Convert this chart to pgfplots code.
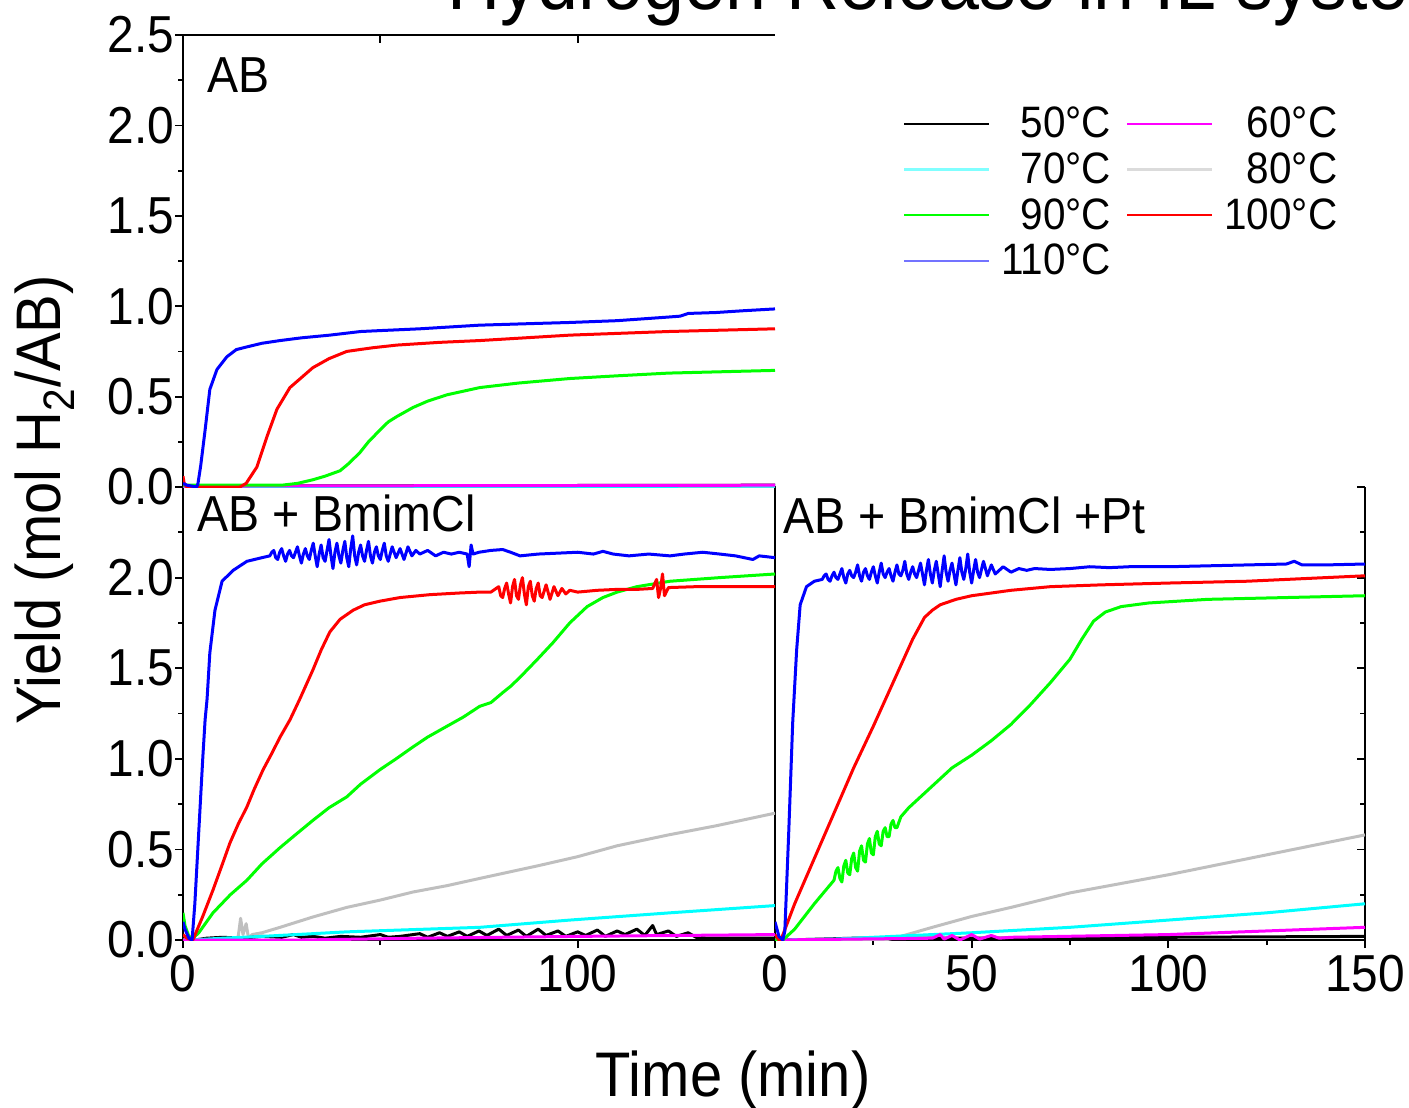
\documentclass[border=0pt]{standalone}
\usepackage{fontspec}
\setmainfont{Liberation Sans}[FakeStretch=0.92]
\usepackage{pgfplots}
\pgfplotsset{compat=1.18}
\definecolor{cgray}{rgb}{0.75,0.75,0.75}
\definecolor{cgreen}{rgb}{0,1,0}
\definecolor{cmag}{rgb}{1,0,1}
\definecolor{ccyan}{rgb}{0,1,1}
\definecolor{lcyan}{rgb}{0.5,1,1}
\definecolor{lgray}{rgb}{0.86,0.86,0.86}
\definecolor{lblue}{rgb}{0.45,0.45,1}
\pgfplotsset{
  panel/.style={
    scale only axis, xmin=0, xmax=150, ymin=0, ymax=2.5,
    tick align=outside,
    major tick length=4pt, minor tick length=2.5pt,
    tick style={black, line width=0.9pt},
    axis line style={line width=1.1pt},
    minor ytick={0.25,0.75,...,2.25},
    tick label style={font=\fontsize{26pt}{30pt}\selectfont},
    /pgf/number format/assume math mode=true,
    yticklabel style={xshift=3pt, /pgf/number format/fixed, /pgf/number format/fixed zerofill, /pgf/number format/precision=1},
    every axis plot/.append style={line width=1.5pt, line join=round},
  }
}
\begin{document}
\begin{tikzpicture}
% ---------------- bottom left: AB + BmimCl
\begin{axis}[panel, at={(91.5pt,-470pt)}, anchor=south west, width=296pt, height=226.5pt,
  xtick pos=left, ytick pos=left,
  ytick={0,0.5,1.0,1.5,2.0}, xtick={0,100}, minor xtick={50}]
\addplot[cgray] coordinates {(0,0) (13,0) (14,0.02) (14.6,0.12) (15.2,0.03) (16,0.09) (16.6,0.01) (17.5,0.03) (20,0.04) (24.6,0.07) (32.9,0.127) (41.5,0.18) (49.9,0.22) (58.3,0.265) (66.9,0.30) (75.2,0.34) (90,0.41) (100,0.46) (110,0.52) (123,0.58) (135,0.63) (150,0.70)};
\addplot[black] coordinates {(0,0.02) (3,0.0) (6,0.01) (10,0.015) (15,0.01) (20,0.02) (25,0.015) (28,0.03) (30,0.015) (33,0.02) (36,0.01) (40,0.02) (45,0.015) (50,0.03) (52,0.015) (55,0.02) (60,0.035) (62,0.015) (65,0.04) (67,0.02) (70,0.045) (72,0.02) (75,0.05) (77,0.025) (80,0.06) (82,0.025) (85,0.055) (87,0.02) (90,0.06) (92,0.025) (95,0.05) (97,0.02) (100,0.045) (102,0.025) (105,0.055) (107,0.02) (110,0.05) (112,0.03) (115,0.06) (117,0.025) (119,0.08) (120,0.03) (123,0.05) (125,0.02) (128,0.04) (130,0.015) (133,0.01) (140,0.01) (150,0.01)};
\addplot[ccyan] coordinates {(0,0) (2,0) (10,0.01) (20,0.02) (41.5,0.045) (75.2,0.07) (98,0.11) (123.4,0.15) (150,0.19)};
\addplot[cmag] coordinates {(0,0) (30,0) (60,0.01) (100,0.02) (150,0.03)};
\addplot[cgreen] coordinates {(0,0.15) (0.5,0.08) (1.5,0.02) (2.5,0.01) (4,0.04) (7.6,0.15) (12,0.25) (16.2,0.33) (20,0.42) (24.6,0.51) (29,0.59) (32.9,0.66) (37,0.73) (41.5,0.79) (45,0.86) (49.9,0.94) (54,1.0) (58.3,1.066) (62,1.12) (66.9,1.18) (71,1.23) (75.2,1.29) (78,1.31) (81,1.365) (83,1.40) (85.4,1.45) (89.7,1.547) (93.7,1.64) (98,1.75) (102.4,1.84) (106.4,1.89) (110,1.92) (115,1.95) (123.4,1.98) (136,2.0) (150,2.02)};
\addplot[red] coordinates {(0,0.03) (1,0.01) (2.5,0.0) (5,0.13) (7.6,0.276) (10,0.42) (11.9,0.536) (14,0.64) (16.2,0.735) (18,0.83) (20.3,0.94) (22.5,1.03) (24.6,1.12) (27.1,1.215) (29.6,1.33) (32.9,1.49) (35,1.60) (37.2,1.70) (39.8,1.77) (43.1,1.82) (46,1.85) (49.9,1.87) (55,1.89) (62.6,1.906) (70,1.915) (75.2,1.92) (78,1.92) (80,1.95) (80.5,1.90) (81,1.89) (81.5,1.94) (82,1.97) (82.5,1.91) (83,1.86) (83.5,1.95) (84,1.99) (84.5,1.90) (85,1.88) (85.5,1.96) (86,2.00) (86.5,1.91) (87,1.85) (87.5,1.95) (88,1.98) (88.5,1.90) (89,1.87) (89.5,1.94) (90,1.97) (90.5,1.90) (91,1.89) (92,1.96) (93,1.88) (94,1.95) (95,1.90) (96,1.94) (97,1.91) (98,1.93) (100,1.92) (105,1.93) (110,1.935) (115,1.935) (119,1.94) (120,1.99) (120.5,1.89) (121,1.94) (121.5,2.02) (122,1.90) (123,1.945) (130,1.95) (140,1.95) (150,1.95)};
\addplot[blue] coordinates {(0,0.1) (0.5,0.06) (1.5,0.01) (2.3,0.0) (3,0.2) (4,0.6) (5.0,1.0) (5.6,1.215) (6.1,1.33) (6.8,1.585) (8.1,1.82) (9.9,1.98) (12.7,2.04) (16.2,2.09) (20,2.11) (22,2.12) (22.5,2.14) (23,2.15) (23.5,2.11) (24,2.10) (24.5,2.14) (25,2.16) (25.5,2.12) (26,2.09) (26.5,2.13) (27,2.15) (27.5,2.12) (28,2.11) (28.5,2.14) (29,2.17) (29.5,2.12) (30,2.08) (30.5,2.13) (31,2.16) (31.5,2.12) (32,2.10) (32.5,2.15) (33,2.19) (33.5,2.12) (34,2.06) (34.5,2.13) (35,2.18) (35.5,2.11) (36,2.09) (36.5,2.15) (37,2.21) (37.5,2.12) (38,2.05) (38.5,2.14) (39,2.19) (39.5,2.12) (40,2.08) (40.5,2.15) (41,2.20) (41.5,2.11) (42,2.06) (42.5,2.16) (43,2.23) (43.5,2.12) (44,2.07) (44.5,2.14) (45,2.18) (45.5,2.12) (46,2.09) (46.5,2.15) (47,2.20) (47.5,2.12) (48,2.08) (48.5,2.14) (49,2.17) (49.5,2.12) (50,2.10) (50.5,2.15) (51,2.19) (51.5,2.12) (52,2.09) (53,2.17) (54,2.11) (55,2.16) (56,2.10) (57,2.17) (58,2.12) (59,2.15) (60,2.13) (62,2.15) (64,2.12) (66,2.14) (68,2.13) (70,2.14) (72,2.13) (72.5,2.06) (73,2.18) (73.5,2.13) (75,2.14) (78,2.15) (81,2.155) (83,2.14) (85.4,2.12) (90,2.13) (95,2.135) (100,2.14) (104,2.13) (106.4,2.145) (109,2.13) (113,2.12) (118,2.13) (123.4,2.12) (127,2.13) (131.7,2.14) (136,2.13) (140,2.12) (144.4,2.10) (146,2.12) (150,2.11)};
\end{axis}
% ---------------- bottom right: AB + BmimCl + Pt
\begin{axis}[panel, at={(387.5pt,-470pt)}, anchor=south west, width=295pt, height=226.5pt,
  axis x line*=bottom, axis y line*=right,
  every major y tick/.append style={xshift=-4pt},
  every minor y tick/.append style={xshift=-2.5pt},
  ytick={0,0.5,1.0,1.5,2.0,2.5}, yticklabels={},
  xtick={0,50,100,150}, minor xtick={25,75,125}]
\addplot[cgray] coordinates {(0,0) (28,0) (32,0.02) (40,0.07) (50,0.13) (60,0.18) (75,0.26) (100,0.36) (125,0.47) (150,0.58)};
\addplot[black] coordinates {(0,0.02) (3,0.0) (20,0.01) (50,0.01) (100,0.015) (150,0.02)};
\addplot[ccyan] coordinates {(0,0) (15,0.005) (30,0.02) (50,0.04) (75,0.07) (100,0.11) (125,0.15) (150,0.2)};
\addplot[cmag] coordinates {(0,0) (20,0.005) (40,0.01) (42,0.03) (43,0.005) (45,0.025) (47,0.0) (50,0.03) (52,0.005) (55,0.025) (57,0.01) (60,0.015) (100,0.03) (125,0.05) (150,0.07)};
\addplot[cgreen] coordinates {(0,0) (2,0) (5,0.06) (10,0.2) (15,0.33) (15.5,0.38) (16,0.40) (16.5,0.34) (17,0.32) (17.5,0.41) (18,0.44) (18.5,0.37) (19,0.36) (19.5,0.45) (20,0.48) (20.5,0.40) (21,0.38) (21.5,0.49) (22,0.52) (22.5,0.44) (23,0.43) (23.5,0.53) (24,0.56) (24.5,0.48) (25,0.47) (25.5,0.57) (26,0.60) (26.5,0.53) (27,0.52) (27.5,0.60) (28,0.62) (28.5,0.57) (29,0.57) (29.5,0.64) (30,0.66) (30.5,0.62) (31,0.62) (32,0.68) (34,0.73) (40,0.85) (45,0.95) (50,1.02) (55,1.10) (60,1.19) (65,1.30) (70,1.42) (75,1.55) (78,1.66) (81,1.76) (84,1.81) (88,1.84) (95,1.86) (110,1.88) (130,1.89) (150,1.90)};
\addplot[red] coordinates {(0,0.03) (1,0.0) (1.5,0.0) (5,0.2) (10,0.45) (15,0.7) (20,0.95) (25,1.18) (30,1.42) (35,1.66) (38,1.78) (40,1.82) (42,1.85) (46,1.88) (50,1.9) (60,1.93) (70,1.95) (83,1.96) (100,1.97) (120,1.98) (135,1.995) (150,2.01)};
\addplot[blue] coordinates {(0,0.1) (1,0.02) (2,0.0) (2.5,0.05) (3.5,0.6) (4.5,1.2) (5.5,1.6) (6.4,1.85) (8,1.95) (10,1.98) (12,1.99) (12.5,2.01) (13,2.02) (13.5,1.99) (14,1.98) (14.5,2.01) (15,2.03) (15.5,2.0) (16,1.99) (16.5,2.02) (17,2.05) (17.5,2.0) (18,1.97) (18.5,2.02) (19,2.04) (19.5,2.01) (20,2.0) (20.5,2.03) (21,2.07) (21.5,2.01) (22,1.98) (22.5,2.03) (23,2.05) (23.5,2.01) (24,1.99) (24.5,2.03) (25,2.06) (25.5,2.01) (26,1.97) (26.5,2.03) (27,2.08) (27.5,2.02) (28,2.0) (28.5,2.03) (29,2.05) (29.5,2.01) (30,1.98) (30.5,2.03) (31,2.07) (31.5,2.02) (32,2.01) (32.5,2.04) (33,2.09) (33.5,2.02) (34,1.99) (34.5,2.03) (35,2.06) (35.5,2.02) (36,2.0) (36.5,2.04) (37,2.08) (37.5,2.02) (38,1.96) (38.5,2.04) (39,2.1) (39.5,2.02) (40,1.97) (40.5,2.04) (41,2.09) (41.5,2.02) (42,1.95) (42.5,2.04) (43,2.12) (43.5,2.03) (44,1.98) (44.5,2.04) (45,2.08) (45.5,2.02) (46,1.96) (46.5,2.04) (47,2.11) (47.5,2.03) (48,1.99) (48.5,2.05) (49,2.13) (49.5,2.03) (50,1.97) (50.5,2.04) (51,2.10) (51.5,2.03) (52,2.0) (53,2.09) (54,2.01) (55,2.07) (56,2.02) (58,2.06) (60,2.03) (62,2.05) (64,2.04) (66,2.05) (70,2.045) (75,2.05) (80,2.06) (85,2.055) (90,2.06) (100,2.06) (110,2.065) (120,2.07) (130,2.075) (132,2.09) (134,2.07) (140,2.07) (150,2.075)};
\end{axis}
% ---------------- top: AB
\begin{axis}[panel, at={(91.5pt,-243.5pt)}, anchor=south west, width=296pt, height=226pt,
  axis x line*=top, axis y line*=left,
  every major x tick/.append style={yshift=-4pt},
  ytick={0,0.5,1.0,1.5,2.0,2.5}, xtick={50,100}, xticklabels={},
  legend columns=2, legend cell align=right,
  legend image code/.code={\draw[#1, line width=1.1pt] (0pt,0pt) -- (42.5pt,0pt);},
  legend style={at={(1.2162,0.8496)}, anchor=north west, draw=none, fill=none,
    inner sep=0pt, outer sep=0pt, font=\fontsize{22pt}{26pt}\selectfont,
    row sep=2pt,
    /tikz/every odd column/.append style={column sep=3.5pt},
    /tikz/every even column/.append style={column sep=5.5pt}}]
\addplot[cgray, forget plot] coordinates {(0,0) (150,0)};
\addplot[black, forget plot] coordinates {(0,0.005) (150,0.01)};
\addplot[ccyan, forget plot] coordinates {(0,0) (150,0.005)};
\addplot[cmag, forget plot] coordinates {(0,0.005) (150,0.01)};
\addplot[cgreen, forget plot] coordinates {(0,0.01) (25,0.01) (29,0.02) (32.9,0.04) (36,0.06) (39.8,0.09) (42,0.13) (44.8,0.19) (47,0.25) (49.9,0.315) (52,0.36) (54.2,0.39) (58.3,0.44) (62,0.475) (66.9,0.51) (75.2,0.55) (85,0.575) (98,0.60) (110,0.615) (123,0.63) (150,0.645)};
\addplot[red, forget plot] coordinates {(0,0.06) (0.3,0.02) (1,0.0) (14.4,0.0) (16,0.02) (18.7,0.11) (21.3,0.28) (23.8,0.43) (27.1,0.55) (32.9,0.66) (37,0.71) (41.5,0.75) (48,0.77) (54.2,0.785) (65,0.80) (75.2,0.81) (98,0.84) (123,0.86) (150,0.875)};
\addplot[blue, forget plot] coordinates {(0,0.02) (1,0.01) (3.5,0.0) (3.8,0.02) (4.5,0.12) (5.6,0.315) (6.8,0.54) (8.6,0.65) (11.1,0.72) (13.5,0.76) (16.2,0.775) (20,0.795) (24.6,0.81) (30,0.825) (37.2,0.84) (45,0.86) (49.9,0.865) (60,0.875) (75,0.895) (90,0.905) (98,0.91) (110,0.92) (123,0.94) (126,0.945) (128,0.96) (135,0.965) (142,0.975) (150,0.985)};
\addlegendimage{black}\addlegendentry{50°C}
\addlegendimage{cmag}\addlegendentry{60°C}
\addlegendimage{lcyan}\addlegendentry{70°C}
\addlegendimage{lgray}\addlegendentry{80°C}
\addlegendimage{cgreen}\addlegendentry{90°C}
\addlegendimage{red}\addlegendentry{100°C}
\addlegendimage{lblue}\addlegendentry{110°C}
\end{axis}
% ---------------- texts
\node[anchor=base west, inner sep=0pt, font=\fontsize{25.3pt}{29pt}\selectfont] at (103.5pt,-46pt) {AB};
\node[anchor=base west, inner sep=0pt, font=\fontsize{25.3pt}{29pt}\selectfont] at (98.5pt,-265.5pt) {AB + BmimCl};
\node[anchor=base west, inner sep=0pt, font=\fontsize{25.3pt}{29pt}\selectfont] at (391.5pt,-266.5pt) {AB + BmimCl +Pt};
\node[rotate=90, inner sep=0pt, font=\fontsize{31.5pt}{36pt}\selectfont] at (22.5pt,-250pt) {Yield (mol H\textsubscript{2}/AB)};
\node[anchor=base, inner sep=0pt, font=\fontsize{31.5pt}{36pt}\selectfont] at (366.5pt,-548pt) {Time (min)};
\node[anchor=base west, inner sep=0pt, font=\fontsize{40pt}{44pt}\selectfont] at (223.5pt,-5pt) {Hydrogen Release in IL system};
\pgfresetboundingbox
\useasboundingbox (0pt,0pt) rectangle (704.5pt,-554pt);
\end{tikzpicture}
\end{document}
